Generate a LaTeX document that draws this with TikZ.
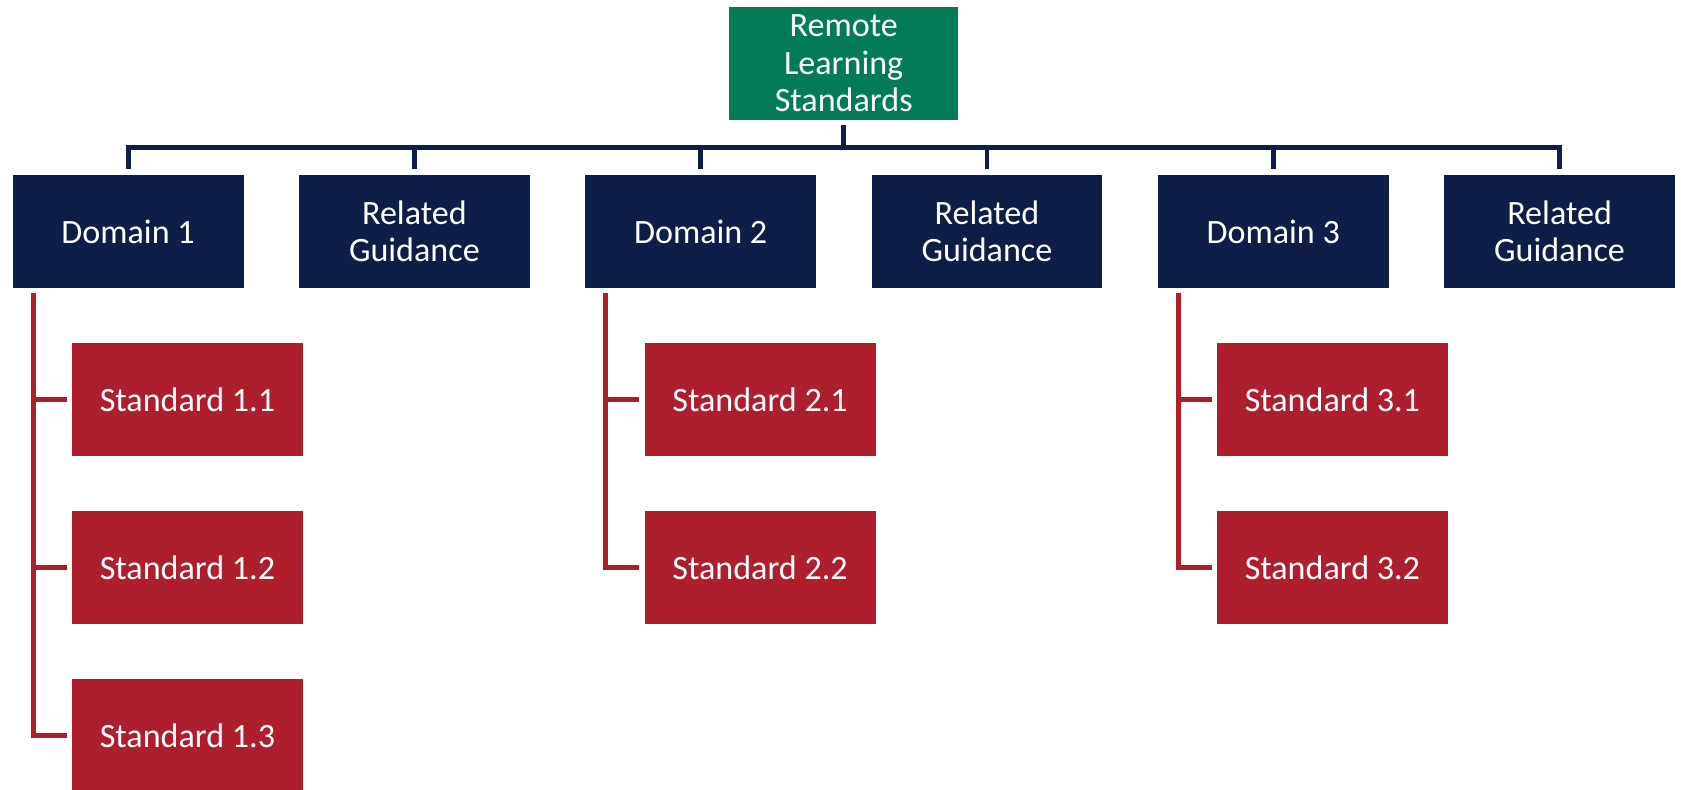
\documentclass[tikz,border=0pt]{standalone}
\usepackage{fontspec}
\setmainfont{Carlito}
\definecolor{navy}{HTML}{0F1E48}
\definecolor{crimson}{HTML}{AE1F2E}
\definecolor{rootgreen}{HTML}{047B57}

\begin{document}
\begin{tikzpicture}[
  x=0.02cm, y=-0.02cm,
  box/.style={rectangle, minimum width=4.62cm, minimum height=2.25cm, inner sep=0pt,
    align=center, text=white, font=\fontsize{19.4}{21.4}\selectfont},
  rootV/.style={box, fill=rootgreen, minimum width=4.58cm},
  domV/.style={box, fill=navy},
  stdV/.style={box, fill=crimson},
  e/.style={line width=2.8pt, navy},
  stdE/.style={line width=2.8pt, crimson}
]
\useasboundingbox (0,0) rectangle (1681,789);

% root
\node[rootV] (root) at (843.7,63.4) {Remote\\Learning\\Standards};

% domains and guidance
\node[domV] (d1) at (128.1,231.4) {Domain 1};
\node[domV] (g1) at (414.4,231.4) {Related\\Guidance};
\node[domV] (d2) at (700.7,231.4) {Domain 2};
\node[domV] (g2) at (987.0,231.4) {Related\\Guidance};
\node[domV] (d3) at (1273.3,231.4) {Domain 3};
\node[domV] (g3) at (1559.6,231.4) {Related\\Guidance};

% standards
\node[stdV] (s11) at (187.5,399.5) {Standard 1.1};
\node[stdV] (s12) at (187.5,567.5) {Standard 1.2};
\node[stdV] (s13) at (187.5,735.5) {Standard 1.3};
\node[stdV] (s21) at (760.1,399.5) {Standard 2.1};
\node[stdV] (s22) at (760.1,567.5) {Standard 2.2};
\node[stdV] (s31) at (1332.4,399.5) {Standard 3.1};
\node[stdV] (s32) at (1332.4,567.5) {Standard 3.2};

% top level tree
\coordinate (bar) at (843.7,147.5);
\draw[e, shorten <=0.11cm] (root) -- (bar);
\draw[e, shorten >=0.11cm] (bar) -| (d1);
\draw[e, shorten >=0.11cm] (bar) -| (g1);
\draw[e, shorten >=0.11cm] (bar) -| (d2);
\draw[e, shorten >=0.11cm] (bar) -| (g2);
\draw[e, shorten >=0.11cm] (bar) -| (d3);
\draw[e, shorten >=0.11cm] (bar) -| (g3);

% standards under each domain
\coordinate (r1) at ([xshift=0.42cm, yshift=-0.11cm]d1.south west);
\coordinate (r2) at ([xshift=0.42cm, yshift=-0.11cm]d2.south west);
\coordinate (r3) at ([xshift=0.42cm, yshift=-0.11cm]d3.south west);
\draw[stdE, shorten >=0.1cm] (r1) |- (s11);
\draw[stdE, shorten >=0.1cm] (r1) |- (s12);
\draw[stdE, shorten >=0.1cm] (r1) |- (s13);
\draw[stdE, shorten >=0.1cm] (r2) |- (s21);
\draw[stdE, shorten >=0.1cm] (r2) |- (s22);
\draw[stdE, shorten >=0.1cm] (r3) |- (s31);
\draw[stdE, shorten >=0.1cm] (r3) |- (s32);

\end{tikzpicture}
\end{document}
